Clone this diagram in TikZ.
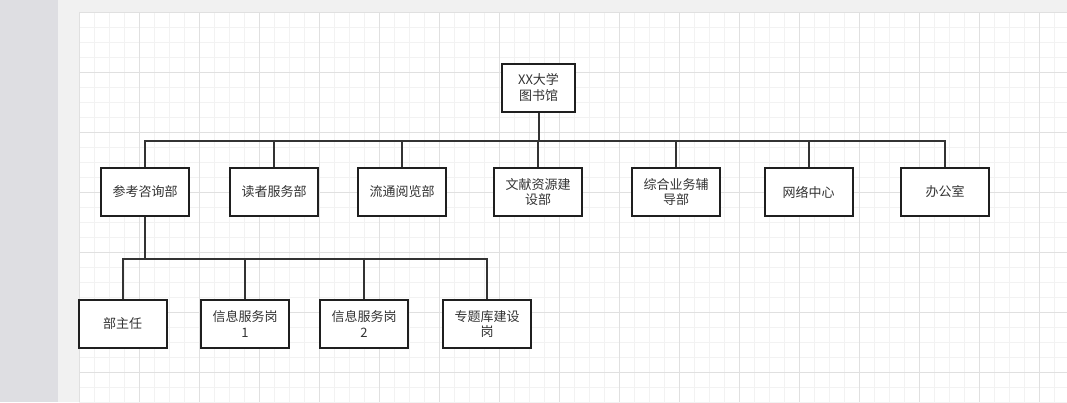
\documentclass[tikz,border=0pt]{standalone}
\usepackage{fontspec}
\setmainfont{Noto Sans CJK SC}
\definecolor{sidegray}{HTML}{DEDEE2}
\definecolor{framegray}{HTML}{F1F1F1}
\definecolor{inkgray}{HTML}{333333}
\begin{document}
\begin{tikzpicture}[
  x=1pt,y=-1pt,
  box/.style={draw=black!88,line width=2pt,fill=white,minimum width=88pt,minimum height=48pt,
    align=center,inner sep=2pt,font=\fontsize{13}{15.5}\selectfont,text=inkgray},
  link/.style={draw=inkgray,line width=2pt},
  minor/.style={draw=black!5,line width=0.6pt},
  major/.style={draw=black!12,line width=0.8pt},
]
\useasboundingbox (0,0) rectangle (1067,402);
% canvas
\fill[framegray] (0,0) rectangle (1067,402);
\fill[sidegray] (0,0) rectangle (58,402);
\fill[white] (79,12) rectangle (1067,402);
\foreach \x in {79,94,...,1067} \draw[minor] (\x,12) -- (\x,402);
\foreach \y in {12,27,...,402} \draw[minor] (79,\y) -- (1067,\y);
\foreach \x in {79,139,...,1067} \draw[major] (\x,12) -- (\x,402);
\foreach \y in {12,72,...,402} \draw[major] (79,\y) -- (1067,\y);

% library
\node[box,minimum width=73pt] (lib) at (538.5,87.5) {XX大学\\图书馆};

% departments
\node[box] (ckzx) at (145,192) {参考咨询部};
\node[box] (dzfw) at (274,192) {读者服务部};
\node[box] (ltyl) at (402,192) {流通阅览部};
\node[box] (wxzy) at (538,192) {文献资源建\\设部};
\node[box] (zhyw) at (676,192) {综合业务辅\\导部};
\node[box] (wlzx) at (808.5,192) {网络中心};
\node[box] (bgs)  at (945,192) {办公室};

% posts
\node[box] (bzr)  at (122.5,324) {部主任};
\node[box] (xxa)  at (245,324) {信息服务岗\\1};
\node[box] (xxb)  at (364,324) {信息服务岗\\2};
\node[box] (ztk)  at (487,324) {专题库建设\\岗};

\foreach \d in {ckzx,dzfw,ltyl,wxzy,zhyw,wlzx,bgs}
  \draw[link] (lib.south) -- ++(0,28.5) -| (\d.north);
\foreach \p in {bzr,xxa,xxb,ztk}
  \draw[link] (ckzx.south) -- ++(0,42) -| (\p.north);
\end{tikzpicture}
\end{document}
